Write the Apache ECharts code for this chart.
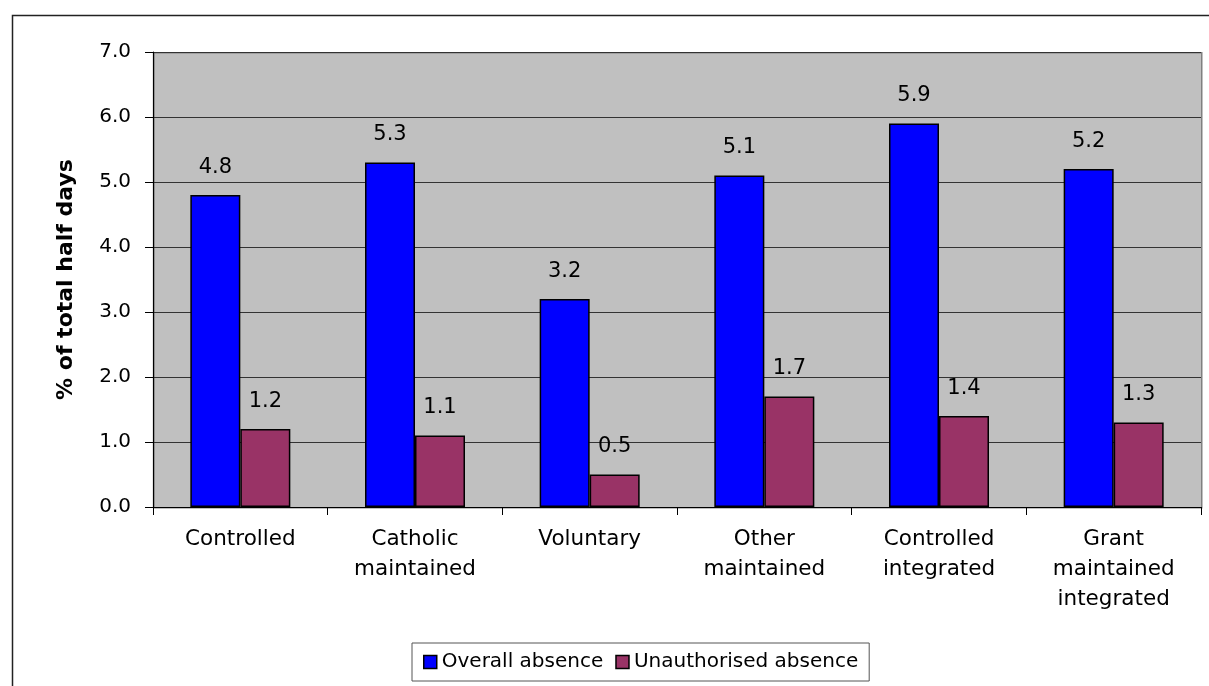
<!DOCTYPE html>
<html>
<head>
<meta charset="utf-8">
<script src="https://cdn.jsdelivr.net/npm/echarts@6/dist/echarts.min.js"></script>
<style>
html,body{margin:0;padding:0;background:#fff;}
#chart{width:1209px;height:686px;}
</style>
</head>
<body>
<div id="chart"></div>
<script>
const categories = ['Controlled', 'Catholic\nmaintained', 'Voluntary', 'Other\nmaintained', 'Controlled\nintegrated', 'Grant\nmaintained\nintegrated'];
const overallAbsence = [4.8, 5.3, 3.2, 5.1, 5.9, 5.2];
const unauthorisedAbsence = [1.2, 1.1, 0.5, 1.7, 1.4, 1.3];
const seriesNames = ['Overall absence', 'Unauthorised absence'];
const yAxisTitle = '% of total half days';

const FONT = '"DejaVu Sans", sans-serif';
const chart = echarts.init(document.getElementById('chart'), null, {renderer: 'canvas'});

const labelStyle = {
  show: true, position: 'top', distance: 17,
  color: '#000', fontFamily: FONT, fontSize: 21,
  formatter: p => p.value.toFixed(1)
};

chart.setOption({
  animation: false,
  backgroundColor: '#fff',
  graphic: [
    {type: 'rect', left: 10, top: 13, shape: {width: 1220, height: 700},
     style: {fill: 'none', stroke: '#222', lineWidth: 1.5}, silent: true, z: -1},
    {type: 'rect', left: 153, top: 52, shape: {width: 1048, height: 455},
     style: {fill: '#C0C0C0', stroke: '#808080', lineWidth: 1.5}, silent: true, z: -1}
  ],
  grid: {left: 153, right: 8, top: 52, bottom: 179, containLabel: false},
  legend: {
    data: seriesNames,
    left: 412, top: 643,
    itemWidth: 13, itemHeight: 13, itemGap: 12,
    padding: [9, 11, 9, 11],
    borderColor: '#555', borderWidth: 1,
    textStyle: {color: '#000', fontFamily: FONT, fontSize: 20, padding: [0, 0, 0, 0]},
    itemStyle: {borderColor: '#000', borderWidth: 1.5},
    icon: 'rect'
  },
  xAxis: {
    type: 'category',
    data: categories,
    axisLine: {lineStyle: {color: '#000', width: 1.2}},
    axisTick: {show: true, alignWithLabel: false, length: 8, lineStyle: {color: '#000'}},
    axisLabel: {color: '#000', fontFamily: FONT, fontSize: 21.5, lineHeight: 30, margin: 17, interval: 0}
  },
  yAxis: {
    type: 'value',
    min: 0, max: 7, interval: 1,
    name: yAxisTitle,
    nameLocation: 'middle',
    nameGap: 76,
    nameTextStyle: {color: '#000', fontFamily: FONT, fontSize: 22, fontWeight: 'bold'},
    axisLine: {show: true, lineStyle: {color: '#000', width: 1.2}},
    axisTick: {show: true, length: 8, lineStyle: {color: '#000'}},
    axisLabel: {color: '#000', fontFamily: FONT, fontSize: 20, margin: 22, formatter: v => v.toFixed(1)},
    splitLine: {show: true, lineStyle: {color: '#333', width: 1}}
  },
  series: [
    {
      name: seriesNames[0], type: 'bar', data: overallAbsence,
      barWidth: 50, barGap: '0%',
      itemStyle: {color: '#0000FF', borderColor: '#000', borderWidth: 1.5},
      label: labelStyle
    },
    {
      name: seriesNames[1], type: 'bar', data: unauthorisedAbsence,
      barWidth: 50, barGap: '0%',
      itemStyle: {color: '#993366', borderColor: '#000', borderWidth: 1.5},
      label: labelStyle
    }
  ]
});
</script>
</body>
</html>
